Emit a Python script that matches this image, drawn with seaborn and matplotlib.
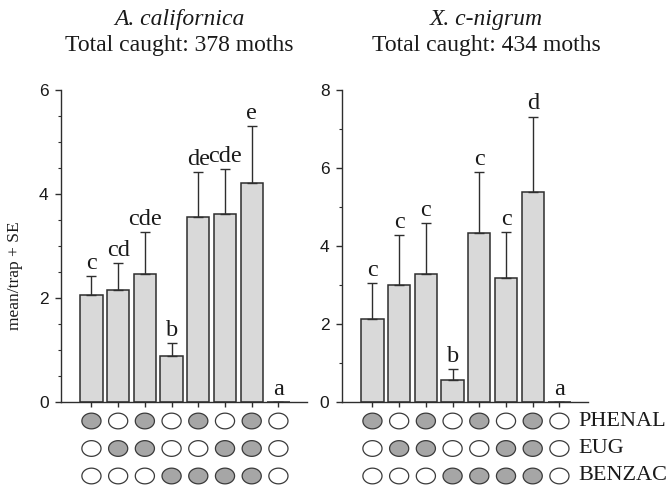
import numpy as np
import pandas as pd
import matplotlib
matplotlib.use("Agg")
import matplotlib.pyplot as plt
import matplotlib.transforms as mtransforms
from matplotlib.path import Path
from matplotlib.ticker import MultipleLocator
import seaborn as sns

# ---------------- data ----------------
treatments = ["1", "2", "3", "4", "5", "6", "7", "8"]

calif_mean = [2.05, 2.15, 2.46, 0.89, 3.56, 3.61, 4.21, 0.0]
calif_top = [2.43, 2.67, 3.26, 1.13, 4.43, 4.48, 5.30, 0.0]
calif_letters = ["c", "cd", "cde", "b", "de", "cde", "e", "a"]

cnig_mean = [2.12, 3.00, 3.28, 0.57, 4.33, 3.18, 5.39, 0.0]
cnig_top = [3.04, 4.27, 4.59, 0.84, 5.89, 4.36, 7.32, 0.0]
cnig_letters = ["c", "c", "c", "b", "c", "c", "d", "a"]

species = ["A. californica", "X. c-nigrum"]
totals = ["Total caught: 378 moths", "Total caught: 434 moths"]

compounds = ["PHENAL", "EUG", "BENZAC"]
phenal = [1, 0, 1, 0, 1, 0, 1, 0]
eug = [0, 1, 1, 0, 0, 1, 1, 0]
benzac = [0, 0, 0, 1, 1, 1, 1, 0]

ylims = [6, 8]
ylabel = "mean/trap + SE"

# ---------------- style ----------------
sns.set_style("ticks")
plt.rcParams["font.family"] = ["Liberation Serif", "DejaVu Serif"]

W, H = 667, 487
fig = plt.figure(figsize=(W / 100, H / 100), dpi=100)

BAR_FC = "#d9d9d9"
EDGE = "#2e2e2e"
FILL = "#a6a6a6"

ax_left_px = [61, 342]
ax_w_px = 246
ax_top_px, ax_bot_px = 90, 402
xlim = (-1.14, 8.07)

# elliptical marker
t = np.linspace(0, 2 * np.pi, 60)
ell = Path(np.column_stack([np.cos(t), 0.82 * np.sin(t)]), closed=True)

panels = [
    (calif_mean, calif_top, calif_letters, 0.5),
    (cnig_mean, cnig_top, cnig_letters, 1.0),
]

rows_y_px = [421, 448.5, 476]
row_sp = rows_y_px[1] - rows_y_px[0]

for i, (means, tops, letters, minor) in enumerate(panels):
    l = ax_left_px[i] / W
    b = (H - ax_bot_px) / H
    h = (ax_bot_px - ax_top_px) / H
    ax = fig.add_axes([l, b, ax_w_px / W, h])
    df = pd.DataFrame({"trt": treatments, "mean": means})
    sns.barplot(data=df, x="trt", y="mean", ax=ax, color=BAR_FC, saturation=1,
                edgecolor=EDGE, linewidth=1.1, width=0.83, errorbar=None)
    se = np.array(tops) - np.array(means)
    xs = np.arange(len(treatments))
    ax.errorbar(xs, means, yerr=[np.zeros_like(se), se], fmt="none",
                ecolor=EDGE, elinewidth=1.0, capsize=3.5, capthick=1.0, zorder=1)
    for x, tp, lab in zip(xs, tops, letters):
        ax.annotate(lab, (x, tp), xytext=(0, 1.5), textcoords="offset points",
                    ha="center", va="bottom", fontsize=17.5, color="#1a1a1a")
    ax.set_xlim(*xlim)
    ax.set_ylim(0, ylims[i])
    ax.yaxis.set_major_locator(MultipleLocator(2))
    ax.yaxis.set_minor_locator(MultipleLocator(minor))
    ax.set_xlabel("")
    ax.set_ylabel("")
    ax.set_xticks(xs)
    ax.set_xticklabels([])
    for lbl in ax.get_yticklabels():
        lbl.set_fontfamily(["Liberation Sans", "DejaVu Sans"])
    ax.tick_params(axis="y", which="major", length=4, width=1.0, pad=5,
                   labelsize=12.5, color=EDGE, labelcolor="#1a1a1a")
    ax.tick_params(axis="y", which="minor", length=2.5, width=0.8, color=EDGE)
    ax.tick_params(axis="x", length=3.5, width=1.0, color=EDGE)
    sns.despine(ax=ax)
    for sp in ["left", "bottom"]:
        ax.spines[sp].set_linewidth(1.0)
        ax.spines[sp].set_color(EDGE)
    ax.set_facecolor("none")

    # circle matrix
    top_c = rows_y_px[0] - row_sp / 2
    bot_c = rows_y_px[-1] + row_sp / 2
    axc = fig.add_axes([l, (H - bot_c) / H, ax_w_px / W, (bot_c - top_c) / H])
    axc.set_xlim(*xlim)
    axc.set_ylim(3.5, 0.5)
    axc.axis("off")
    for r, pattern in enumerate([phenal, eug, benzac]):
        colors = [FILL if p else "white" for p in pattern]
        axc.scatter(xs, [r + 1] * len(xs), s=190, marker=ell, c=colors,
                    edgecolors="#3a3a3a", linewidths=0.9, clip_on=False, zorder=3)
        if i == 1:
            trans = mtransforms.blended_transform_factory(axc.transAxes, axc.transData)
            axc.text((578 - ax_left_px[1]) / ax_w_px, r + 1, compounds[r],
                     transform=trans, ha="left", va="center", fontsize=16,
                     color="#1a1a1a", clip_on=False)

# titles
title_x = [179, 486]
for i in range(2):
    fig.text(title_x[i] / W, 1 - 19 / H, species[i], ha="center", va="center",
             fontsize=17, style="italic", color="#1a1a1a")
    fig.text(title_x[i] / W, 1 - 46 / H, totals[i], ha="center", va="center",
             fontsize=17, color="#1a1a1a")

fig.text(15 / W, 1 - 276 / H, ylabel, rotation=90, ha="center", va="center",
         fontsize=12.5, color="#1a1a1a")

fig.savefig("out.png", dpi=100)
